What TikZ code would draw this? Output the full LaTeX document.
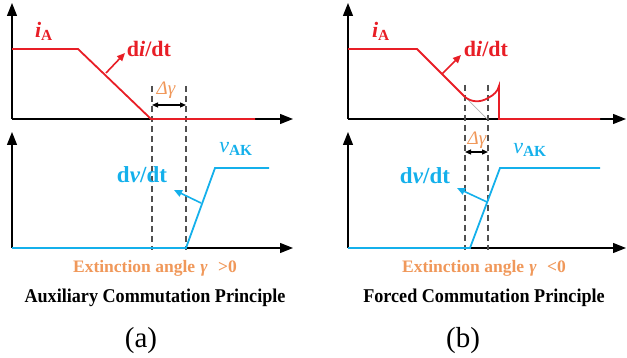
\documentclass[tikz,border=0pt]{standalone}
\usepackage{fontspec}
\setmainfont{Liberation Serif}
\newfontfamily\condserif[FakeStretch=0.93]{Liberation Serif}
\usetikzlibrary{arrows.meta}
\definecolor{cred}{RGB}{232,30,38}
\definecolor{cblue}{RGB}{20,176,235}
\definecolor{corange}{RGB}{240,152,90}
\definecolor{cgray}{RGB}{80,80,80}
\tikzset{
  axis/.style={line width=1.4pt,-{Triangle[length=13pt,width=10pt]}},
  redline/.style={cred,line width=1.8pt},
  blueline/.style={cblue,line width=1.8pt},
  redarrow/.style={cred,line width=1.6pt,-{Triangle[length=8pt,width=7pt]}},
  bluearrow/.style={cblue,line width=1.6pt,-{Triangle[length=8pt,width=7pt]}},
  dashline/.style={cgray,line width=1.2pt,dash pattern=on 6pt off 4pt},
  dbl/.style={black,line width=1.2pt,{Triangle[length=6pt,width=5pt]}-{Triangle[length=6pt,width=5pt]}},
  redlab/.style={cred,font=\fontsize{22}{24}\selectfont\bfseries,inner sep=0pt},
  bluelab/.style={cblue,font=\fontsize{23}{26}\selectfont\bfseries,inner sep=0pt},
  vlab/.style={cblue,font=\fontsize{22}{24}\selectfont,inner sep=0pt},
  orlab/.style={corange,font=\fontsize{19}{22}\selectfont\itshape,inner sep=0pt},
  ortext/.style={corange,font=\fontsize{17.5}{20}\selectfont\bfseries,inner sep=0pt,anchor=base},
  bltext/.style={black,font=\fontsize{19.5}{22}\condserif\bfseries,inner sep=0pt,anchor=base},
  captext/.style={black,font=\fontsize{29}{32}\selectfont,inner sep=0pt,anchor=base},
}
\begin{document}
\begin{tikzpicture}[x=1pt,y=-1pt]
\useasboundingbox (0,0) rectangle (627,358);
% ===== (a) =====
\coordinate (a1o) at (12,119);
\coordinate (a1y) at (12,3);
\coordinate (a1x) at (293,119);
\draw[axis] (a1o) -- (a1y);
\draw[axis] (a1o) -- (a1x);
\coordinate (a2o) at (12,248);
\coordinate (a2y) at (12,132);
\coordinate (a2x) at (293,248);
\draw[axis] (a2o) -- (a2y);
\draw[axis] (a2o) -- (a2x);
% dashed
\draw[dashline] (152,86) -- (152,250);
\draw[dashline] (186,86) -- (186,250);
% red current
\draw[redline] (12,49) -- (78,49) -- (151,119) -- (255,119);
% blue voltage
\draw[blueline] (12,248) -- (186,248) -- (215,168) -- (269,168);
% labels
\node[redlab] (aiA) at (44,31) {\textit{i}\textsubscript{A}};
\node[redlab] (adi) at (149,49) {d\textit{i}/dt};
\coordinate (adi1) at (106,73);
\coordinate (adi2) at (125,53);
\draw[redarrow] (adi1) -- (adi2);
\node[orlab] (adg) at (166,90) {Δγ};
\coordinate (adg1) at (152,105);
\coordinate (adg2) at (186,105);
\draw[dbl] (adg1) -- (adg2);
\node[vlab] (avak) at (236,149) {\textit{v}\textsubscript{\textbf{AK}}};
\node[bluelab] (adv) at (142,175) {d\textit{v}/dt};
\coordinate (adv1) at (201,203);
\coordinate (adv2) at (174,190);
\draw[bluearrow] (adv1) -- (adv2);
\node[ortext] (aext) at (155,273) {Extinction angle\hspace{0.3em}\textit{γ}\hspace{0.6em}>0};
\node[bltext] (aprin) at (155,303) {Auxiliary Commutation Principle};
\node[captext] (acap) at (141,347) {(a)};
% ===== (b) =====
\coordinate (b1o) at (348,119);
\coordinate (b1y) at (348,3);
\coordinate (b1x) at (626,119);
\draw[axis] (b1o) -- (b1y);
\draw[axis] (b1o) -- (b1x);
\coordinate (b2o) at (348,248);
\coordinate (b2y) at (348,132);
\coordinate (b2x) at (626,248);
\draw[axis] (b2o) -- (b2y);
\draw[axis] (b2o) -- (b2x);
% dashed
\draw[dashline] (465,85) -- (465,250);
\draw[dashline] (488,85) -- (488,250);
% faint continuation
\draw[black!30,line width=0.7pt] (465,97) -- (487,119);
% red current
\draw[redline] (348,49) -- (417,49) -- (465,97)
  .. controls (471,102) and (480,103) .. (488,98)
  .. controls (494,95) and (498,91) .. (499,86) -- (499,119) -- (600,119);
% blue
\draw[blueline] (348,248) -- (470,248) -- (500,168) -- (600,168);
% labels
\node[redlab] (biA) at (381,31) {\textit{i}\textsubscript{A}};
\node[redlab] (bdi) at (486,49) {d\textit{i}/dt};
\coordinate (bdi1) at (442,74);
\coordinate (bdi2) at (461,55);
\draw[redarrow] (bdi1) -- (bdi2);
\node[orlab] (bdg) at (477,140) {Δγ};
\coordinate (bdg1) at (465,152);
\coordinate (bdg2) at (488,152);
\draw[dbl] (bdg1) -- (bdg2);
\node[vlab] (bvak) at (530,150) {\textit{v}\textsubscript{\textbf{AK}}};
\node[bluelab] (bdv) at (425,176) {d\textit{v}/dt};
\coordinate (bdv1) at (487,202);
\coordinate (bdv2) at (457,188);
\draw[bluearrow] (bdv1) -- (bdv2);
\node[ortext] (bext) at (484,273) {Extinction angle\hspace{0.3em}\textit{γ}\hspace{0.6em}<0};
\node[bltext] (bprin) at (484,303) {Forced Commutation Principle};
\node[captext] (bcap) at (463,347) {(b)};
\end{tikzpicture}
\end{document}
